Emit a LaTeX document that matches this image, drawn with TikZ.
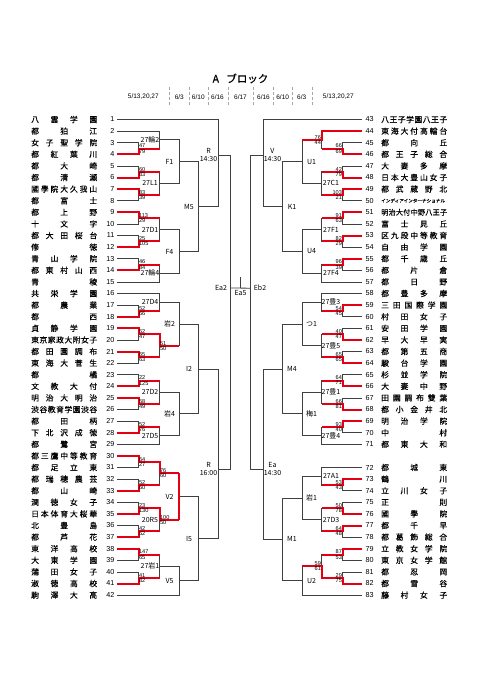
\documentclass[tikz,border=0pt]{standalone}
\usepackage{fontspec}
\setmainfont{Liberation Sans}
\newfontfamily\jp{Noto Sans CJK JP}
\newfontfamily\jpn{Noto Sans CJK JP}[FakeBold=0.4]
\usepackage{tikz}
\usetikzlibrary{calc}
\definecolor{winred}{RGB}{228,0,18}

\makeatletter
% --- 均等割付の校名 ---
\newcommand\spreadname[2][66pt]{\edef\sp@tmp{#2}\makebox[#1][s]{\expandafter\sp@first\sp@tmp\relax}}
\def\sp@first#1{#1\sp@rest}
\def\sp@rest#1{\ifx#1\relax\else\hfill#1\expandafter\sp@rest\fi}
\makeatother

% --- 山の線 (名前, 上, 下, 列; 出口の位置) ---
\newcommand\bkt[5][.5]{%
  \draw[bline] (#3) -- (#3 -| #5) -- (#4 -| #5) -- (#4);
  \coordinate (#2) at ($(#3 -| #5)!#1!(#4 -| #5)$);}
% --- 勝ち上がり (赤) ---
\newcommand\win[4]{\draw[wline] (#1) -- (#1 -| #3) -- (#2) -- (#2 -| #4);}
% --- 得点 ---
\newcommand\ptsl[3]{\node[pts, anchor=south west] (#1u) at (#1) {#2};
  \node[pts, anchor=north west] (#1d) at (#1) {#3};}
\newcommand\ptsr[3]{\node[pts, anchor=south east] (#1u) at (#1) {#2};
  \node[pts, anchor=north east] (#1d) at (#1) {#3};}
% --- 試合名 ---
\newcommand\labl[2]{\node[lab] (#1t) at ($(#1)+(-9.5,0)$) {#2};}
\newcommand\labr[2]{\node[lab] (#1t) at ($(#1)+(9.5,0)$) {#2};}

\begin{document}
\begin{tikzpicture}[x=1pt, y=-1pt,
  bline/.style={black!75, line width=0.8pt},
  wline/.style={winred, line width=2pt},
  tname/.style={font=\jpn\fontsize{7.8}{8}\selectfont, inner sep=0pt},
  tno/.style={font=\fontsize{7.2}{8}\selectfont, inner sep=0pt},
  pts/.style={font=\fontsize{5.6}{6}\selectfont, inner sep=0.4pt},
  lab/.style={font=\jp\fontsize{7}{8}\selectfont, inner sep=0.5pt, align=center},
  sep/.style={gray!70, line width=0.4pt, densely dashed}]
  \useasboundingbox (0,0) rectangle (481,680);

  % --- 見出し ---
  \node[font=\jpn\fontsize{10.5}{12}\selectfont] (title) at (240.5,78.5) {A\hspace{0.7em}ブロック};
  \node[font=\fontsize{6.5}{7}\selectfont] (dl) at (143.3,97) {5/13,20,27};
  \node[font=\fontsize{6.5}{7}\selectfont] (dr) at (338.3,97) {5/13,20,27};
  \foreach \x/\dd [count=\k] in {179.3/3, 198.3/10, 217.5/16, 240.5/17, 263.5/16, 282.7/10, 301.7/3}
    \node[font=\fontsize{6.5}{7}\selectfont] (dt\k) at (\x,97) {6/\dd};
  \foreach \x in {169,189.3,208.3,228.3,252.7,272.7,291.7,312}
    \draw[sep] (\x,87) -- (\x,106);

  % --- 列と組み合わせの位置 ---
  \foreach \c/\x in {L1/138.5, L2/159.5, L3/179, L4/198.5, L5/218, L6/230.5,
                     R1/342.5, R2/321.5, R3/302, R4/282.5, R5/263, R6/250.5, NL/31, NR/381}
    \coordinate (\c) at (\x,0);
  \foreach \i in {1,...,42}  \coordinate (T\i) at (117, {119.5+(\i-1)*11.6});
  \foreach \i in {43,...,71} \coordinate (T\i) at (362, {119.5+(\i-43)*11.6});
  \foreach \i in {72,...,83} \coordinate (T\i) at (362, {119.5+(\i-42)*11.6});

  % --- 左の山 ---
  \foreach \i/\j in {3/4,5/6,7/8,9/10,11/12,13/14,17/18,19/20,21/22,
                     23/24,25/26,27/28,30/31,32/33,34/35,36/37,38/39,40/41}
    {\bkt{a\i}{T\i}{T\j}{L1}}
  \bkt{b2}{T2}{a3}{L2}   \bkt{b5}{a5}{a7}{L2}   \bkt{b9}{a9}{a11}{L2}
  \bkt{b13}{a13}{T15}{L2} \bkt{b16}{T16}{a17}{L2} \bkt{b19}{a19}{a21}{L2}
  \bkt{b23}{a23}{a25}{L2} \bkt{b27}{a27}{T29}{L2} \bkt{b30}{a30}{a32}{L2}
  \bkt{b34}{a34}{a36}{L2} \bkt{b38}{a38}{a40}{L2}
  \bkt{c2}{b2}{b5}{L3}   \bkt{c9}{b9}{b13}{L3}   \bkt{c16}{b16}{b19}{L3}
  \bkt{c23}{b23}{b27}{L3} \bkt{c30}{b30}{b34}{L3} \bkt{c38}{b38}{T42}{L3}
  \bkt{d2}{c2}{c9}{L4}   \bkt{d16}{c16}{c23}{L4} \bkt{d30}{c30}{c38}{L4}
  \bkt[.408]{e1}{T1}{d2}{L5}
  \bkt[.59]{e16}{d16}{d30}{L5}
  \bkt[.4236]{f1}{e1}{e16}{L6}

  % --- 右の山 ---
  \foreach \i/\j in {45/46,47/48,49/50,51/52,53/54,55/56,59/60,61/62,63/64,
                     65/66,67/68,69/70,73/74,75/76,77/78,79/80,81/82}
    {\bkt{a\i}{T\i}{T\j}{R1}}
  \bkt{b44}{T44}{a45}{R2} \bkt{b47}{a47}{a49}{R2} \bkt{b51}{a51}{a53}{R2}
  \bkt{b55}{a55}{T57}{R2} \bkt{b58}{T58}{a59}{R2} \bkt{b61}{a61}{a63}{R2}
  \bkt{b65}{a65}{a67}{R2} \bkt{b69}{a69}{T71}{R2} \bkt{b72}{T72}{a73}{R2}
  \bkt{b75}{a75}{a77}{R2} \bkt{b79}{a79}{a81}{R2}
  \bkt{c44}{b44}{b47}{R3} \bkt{c51}{b51}{b55}{R3} \bkt{c58}{b58}{b61}{R3}
  \bkt{c65}{b65}{b69}{R3} \bkt{c72}{b72}{b75}{R3} \bkt{c79}{b79}{T83}{R3}
  \bkt{d44}{c44}{c51}{R4} \bkt{d58}{c58}{c65}{R4} \bkt{d72}{c72}{c79}{R4}
  \bkt[.408]{e43}{T43}{d44}{R5}
  \bkt[.59]{e58}{d58}{d72}{R5}
  \bkt[.4236]{f43}{e43}{e58}{R6}

  % --- 決勝 ---
  \draw[bline] (f1) -- (f43);
  \coordinate (fin) at ($(f1)!.5!(f43)$);
  \coordinate (champ) at ($(fin)+(0,-11)$);
  \draw[bline] (fin) -- (champ);
  \node[lab, anchor=north] (fint) at ($(fin)+(0,1.5)$) {Ea5};

  % --- 勝ち上がり ---
  \foreach \w/\m in {T4/a3,T6/a5,T7/a7,T9/a9,T12/a11,T14/a13,T18/a17,T19/a19,T21/a21,
                     T24/a23,T25/a25,T28/a27,T30/a30,T33/a32,T35/a34,T37/a36,T38/a38,T41/a40}
    {\win{\w}{\m}{L1}{L2}}
  \win{a19}{b19}{L2}{L3} \win{a30}{b30}{L2}{L3} \win{a34}{b34}{L2}{L3}
  \draw[wline] (b30 -| L3) -- (b34 -| L3);
  \foreach \w/\m in {T46/a45,T48/a47,T49/a49,T51/a51,T53/a53,T55/a55,T59/a59,T62/a61,T64/a63,
                     T66/a65,T68/a67,T69/a69,T73/a73,T76/a75,T77/a77,T79/a79,T82/a81}
    {\win{\w}{\m}{R1}{R2}}
  \win{T44}{b44}{R2}{R3} \win{a81}{b79}{R2}{R3}

  % --- 得点 ---
  \foreach \m/\p/\q in {a3/47/79,a5/60/83,a7/83/39,a9/113/29,a11/25/105,a13/46/84,
                        a17/52/66,a19/52/47,a21/65/63,a23/22/125,a25/58/49,a27/52/76,
                        a30/64/27,a32/52/60,a34/23/130,a36/42/52,a38/147/65,a40/41/82,
                        b19/51/50,b30/76/60,b34/100/50}
    {\ptsl{\m}{\p}{\q}}
  \foreach \m/\p/\q in {a45/66/69,a47/42/79,a49/103/21,a51/91/63,a53/82/29,a55/96/39,
                        a59/54/45,a61/40/47,a63/65/65,a65/64/71,a67/66/81,a69/93/40,
                        a73/53/43,a75/50/78,a77/64/48,a79/87/53,a81/29/75,
                        b44/76/44,b79/59/61}
    {\ptsr{\m}{\p}{\q}}

  % --- 試合名 ---
  \labl{b2}{27輪2} \labl{b5}{27L1} \labl{b9}{27D1} \labl{b13}{27輪4} \labl{b16}{27D4}
  \labl{b23}{27D2} \labl{b27}{27D5} \labl{b34}{20R5} \labl{b38}{27岩1}
  \labl{c2}{F1} \labl{c9}{F4} \labl{c16}{岩2} \labl{c23}{岩4} \labl{c30}{V2} \labl{c38}{V5}
  \labl{d2}{M5} \labl{d16}{I2} \labl{d30}{I5}
  \labl{e1}{R\\14:30} \labl{e16}{R\\16:00} \labl{f1}{Ea2}
  \labr{b47}{27C1} \labr{b51}{27F1} \labr{b55}{27F4} \labr{b58}{27豊3} \labr{b61}{27豊5}
  \labr{b65}{27豊1} \labr{b69}{27豊4} \labr{b72}{27A1} \labr{b75}{27D3}
  \labr{c44}{U1} \labr{c51}{U4} \labr{c58}{つ1} \labr{c65}{梅1} \labr{c72}{岩1} \labr{c79}{U2}
  \labr{d44}{K1} \labr{d58}{M4} \labr{d72}{M1}
  \labr{e43}{V\\14:30} \labr{e58}{Ea\\14:30} \labr{f43}{Eb2}

  % --- 左の学校 ---
  \foreach \i/\nm in {1/八雲学園,2/都狛江,3/女子聖学院,4/都紅葉川,5/都大崎,6/都清瀬,
      7/國學院大久我山,8/都富士,9/都上野,10/十文字,11/都大田桜台,12/修徳,13/青山学院,
      14/都東村山西,15/青稜,16/共栄学園,17/都農業,18/都西,19/貞静学園,20/東京家政大附女子,
      21/都田園調布,22/東海大菅生,23/都橘,24/文教大付,25/明治大明治,26/渋谷教育学園渋谷,
      27/都田柄,28/下北沢成徳,29/都鷺宮,30/都三鷹中等教育,31/都足立東,32/都瑞穂農芸,
      33/都山崎,34/潤徳女子,35/日本体育大桜華,36/北豊島,37/都芦花,38/東洋高校,
      39/大東学園,40/蒲田女子,41/淑徳高校,42/駒澤大高}
  {
    \node[tno, anchor=east] (no\i) at ($(T\i)+(-2.5,0)$) {\i};
    \node[tname, anchor=west] (nm\i) at (T\i -| NL) {\spreadname{\nm}};
  }

  % --- 右の学校 ---
  \foreach \i/\nm in {43/八王子学園八王子,44/東海大付高輪台,45/都向丘,46/都王子総合,
      47/大妻多摩,48/日本大豊山女子,49/都武蔵野北,52/富士見丘,53/区九段中等教育,
      54/自由学園,55/都千歳丘,56/都片倉,57/都日野,58/都豊多摩,59/三田国際学園,
      60/村田女子,61/安田学園,62/早大早実,63/都第五商,64/駿台学園,65/杉並学院,
      66/大妻中野,67/田園調布雙葉,68/都小金井北,69/明治学院,70/中村,71/都東大和,
      72/都城東,73/鶴川,74/立川女子,75/正則,76/國學院,77/都千早,78/都葛飾総合,
      79/立教女学院,80/東京女学館,81/都忍岡,82/都雪谷,83/藤村女子}
  {
    \node[tname, anchor=west] (nm\i) at (T\i -| NR) {\spreadname{\nm}};
  }
  \node[tname, anchor=west] (nm50) at (T50 -| NR) {\fontsize{4.6}{5}\selectfont インディアインターナショナル};
  \node[tname, anchor=west] (nm51) at (T51 -| NR) {\fontsize{7.2}{8}\selectfont\spreadname{明治大付中野八王子}};
  \foreach \i in {43,...,83}
    \node[tno, anchor=west] (no\i) at ($(T\i)+(3.5,0)$) {\i};

\end{tikzpicture}
\end{document}
